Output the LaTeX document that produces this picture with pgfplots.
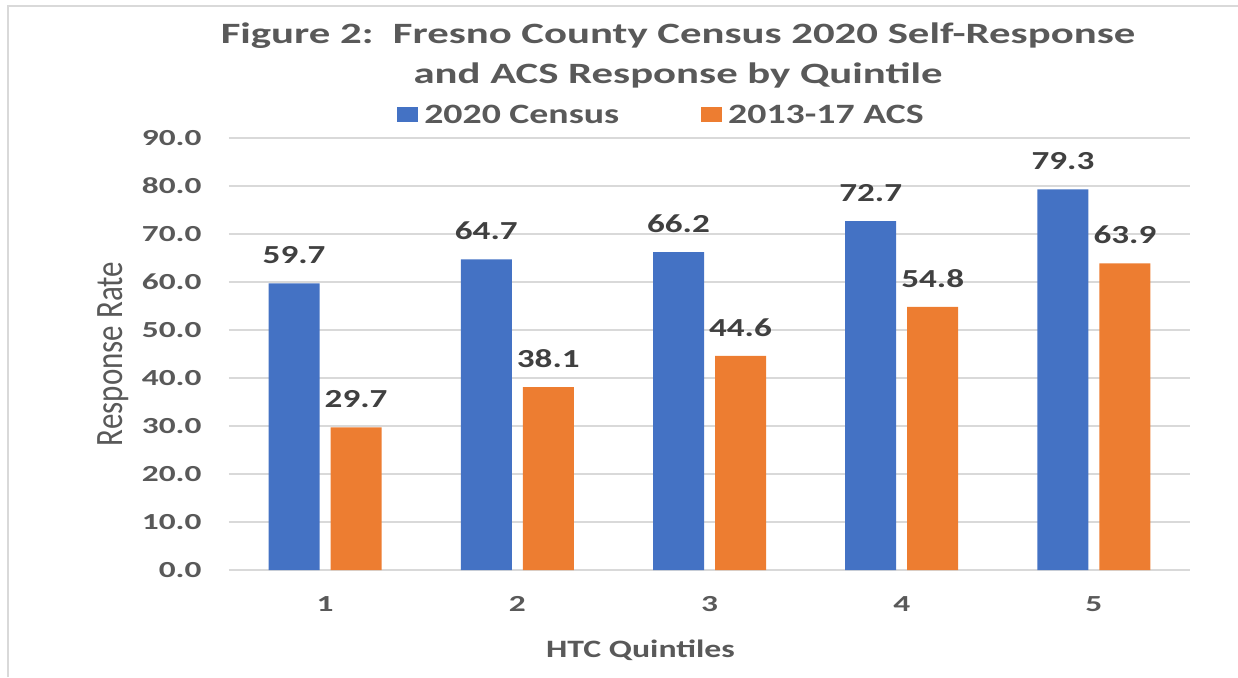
\documentclass[border=0pt]{standalone}
\usepackage{fontspec}
\setmainfont{Carlito}
\newfontfamily\wf[FakeStretch=1.35]{Carlito}
\newfontfamily\wft[FakeStretch=1.45]{Carlito}
\usepackage{pgfplots}
\pgfplotsset{compat=1.18}
\definecolor{cblue}{HTML}{4472C4}
\definecolor{corange}{HTML}{ED7D31}
\definecolor{gridc}{HTML}{D9D9D9}
\definecolor{txt}{HTML}{595959}
\definecolor{lab}{HTML}{404040}
\begin{document}
\begin{tikzpicture}[x=1pt,y=1pt]
\path[use as bounding box] (-229,-107) rectangle (1009,570);
\draw[gridc, line width=2.5pt] (-221,-107) -- (-221,564) -- (1009,564);
\begin{axis}[
  scale only axis, width=961pt, height=432pt,
  ybar=11pt, bar width=51pt,
  xmin=0.5, xmax=5.5, ymin=0, ymax=90,
  xtick={1,2,3,4,5}, ytick={0,10,...,90},
  major tick length=0pt,
  axis line style={draw=none},
  ymajorgrids, grid style={gridc, line width=1.5pt},
  /pgf/number format/assume math mode=true,
  yticklabel={\pgfmathprintnumber[fixed,fixed zerofill,precision=1,assume math mode=true]{\tick}},
  yticklabel style={font=\wft\bfseries\fontsize{23}{26}\selectfont, text=txt, xshift=-24pt},
  xticklabel style={font=\wft\bfseries\fontsize{23}{26}\selectfont, text=txt, yshift=-23pt},
  xlabel={HTC Quintiles},
  xlabel style={font=\wf\bfseries\fontsize{25}{30}\selectfont, text=txt, yshift=-21pt, xshift=-69pt},
  ylabel={\scalebox{1}[1.25]{Response Rate}},
  ylabel style={font=\fontsize{31}{36}\selectfont, text=txt, yshift=6pt},
  nodes near coords,
  nodes near coords style={font=\wf\bfseries\fontsize{26}{30}\selectfont, text=lab, yshift=16pt,
     /pgf/number format/.cd, fixed, fixed zerofill, precision=1, assume math mode=true},
  legend columns=2,
  legend style={draw=none, at={(0.450,1.053)}, anchor=center,
     font=\wf\bfseries\fontsize{28}{32}\selectfont, text=txt,
     /tikz/every even column/.append style={column sep=80pt}},
  legend image code/.code={\fill[#1] (0pt,-7pt) rectangle (21pt,8pt);},
]
\addplot[draw=none, fill=cblue] coordinates {(1,59.7) (2,64.7) (3,66.2) (4,72.7) (5,79.3)};
\addplot[draw=none, fill=corange] coordinates {(1,29.7) (2,38.1) (3,44.6) (4,54.8) (5,63.9)};
\legend{\hspace{4pt}2020 Census, \hspace{4pt}2013-17 ACS}
\end{axis}
\node[font=\wft\bfseries\fontsize{29.5}{40}\selectfont, text=txt, align=center] at (449,515) {Figure 2:\ \ Fresno County Census 2020 Self-Response\\and ACS Response by Quintile};
\end{tikzpicture}
\end{document}
